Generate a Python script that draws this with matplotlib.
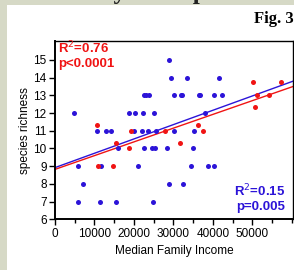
import matplotlib
matplotlib.use("Agg")
import matplotlib.pyplot as plt
from matplotlib.patches import Rectangle
from matplotlib.ticker import MultipleLocator

# blue points: income vs species richness
blue_x = [28860,
          29290, 33340, 41600,
          22500, 23100, 23700, 30050, 31800, 32200, 36400, 36650, 40200, 42350,
          4800, 18800, 20250, 22360, 25060, 38000,
          10630, 12830, 14100, 20050, 21940, 23630, 25570, 30050, 35300,
          15950, 22530, 24470, 25320, 28400, 35020,
          5820, 11570, 21090, 34510, 38810, 40350,
          7090, 28860, 32330,
          5820, 11390, 15360, 24810]
blue_y = [15,
          14, 14, 14,
          13, 13, 13, 13, 13, 13, 13, 13, 13, 13,
          12, 12, 12, 12, 12, 12,
          11, 11, 11, 11, 11, 11, 11, 11, 11,
          10, 10, 10, 10, 10, 10,
          9, 9, 9, 9, 9, 9,
          8, 8, 8,
          7, 7, 7, 7]

# red points
red_x = [10630, 36300, 19300, 27850, 37550, 15360, 31600, 18810,
         10800, 14760, 50040, 57220, 51060, 54100, 50550]
red_y = [11.33, 11.33, 11, 11, 11, 10.33, 10.33, 10,
         9, 9, 13.74, 13.74, 13, 13, 12.33]

# regression lines
line_x = [0, 60300]
blue_fit = [8.92, 13.80]
red_fit = [8.82, 13.50]

blue = '#2c14d8'
red = '#f01414'
narrow = ['Liberation Sans Narrow', 'Liberation Sans', 'DejaVu Sans']

fig = plt.figure(figsize=(2.94, 2.70), dpi=100, facecolor='#d6d9c6')
fig.patches.append(Rectangle((7 / 294, 0), 1, 1 - 5 / 270, transform=fig.transFigure,
                             facecolor='white', edgecolor='none', zorder=-10))
fig.text(29 / 294, 1 + 1 / 270, 'Diversity and Species Richness', family='Liberation Serif',
         fontweight='bold', fontsize=18, va='baseline', ha='left', color='#222222')
fig.text(1.0, 1 - 19 / 270, 'Fig. 3', family='Liberation Serif', fontweight='bold',
         fontsize=12, ha='right', va='center')

ax = fig.add_axes([55 / 294, 1 - 219.3 / 270, 238 / 294, 178.3 / 270])
ax.set_facecolor('white')
ax.plot(line_x, blue_fit, color=blue, lw=1, zorder=2)
ax.plot(line_x, red_fit, color=red, lw=1, zorder=2)
ax.scatter(blue_x, blue_y, s=13, color=blue, zorder=3, linewidths=0)
ax.scatter(red_x, red_y, s=13, color=red, zorder=3, linewidths=0)

ax.set_xlim(0, 60300)
ax.set_ylim(6, 16.07)
ax.xaxis.set_major_locator(MultipleLocator(10000))
ax.xaxis.set_minor_locator(MultipleLocator(5000))
ax.set_xticks([0, 10000, 20000, 30000, 40000, 50000])
ax.set_yticks(range(6, 16))
ax.tick_params(which='both', direction='out', width=1, labelsize=8.5, pad=2,
               labelfontfamily='Liberation Sans')
ax.tick_params(which='major', length=4)
ax.tick_params(which='minor', length=3)
for s in ax.spines.values():
    s.set_linewidth(1)
ax.spines['left'].set_linewidth(1.4)
ax.spines['bottom'].set_linewidth(1.4)

ax.set_xlabel('Median Family Income', family='Liberation Sans', fontsize=8.5, labelpad=4)
ax.set_ylabel('species richness', family='Liberation Sans', fontsize=8.5, labelpad=2)

ax.text(0.012, 0.962, 'R$^2$=0.76', transform=ax.transAxes, color=red, fontweight='bold',
        fontsize=9.5, family=narrow, va='center', ha='left')
ax.text(0.012, 0.872, 'p<0.0001', transform=ax.transAxes, color=red, fontweight='bold',
        fontsize=9.5, family=narrow, va='center', ha='left')
ax.text(0.966, 0.158, 'R$^2$=0.15', transform=ax.transAxes, color=blue, fontweight='bold',
        fontsize=9.5, family=narrow, va='center', ha='right')
ax.text(0.966, 0.071, 'p=0.005', transform=ax.transAxes, color=blue, fontweight='bold',
        fontsize=9.5, family=narrow, va='center', ha='right')

fig.savefig('out.png', dpi=100, facecolor=fig.get_facecolor())
